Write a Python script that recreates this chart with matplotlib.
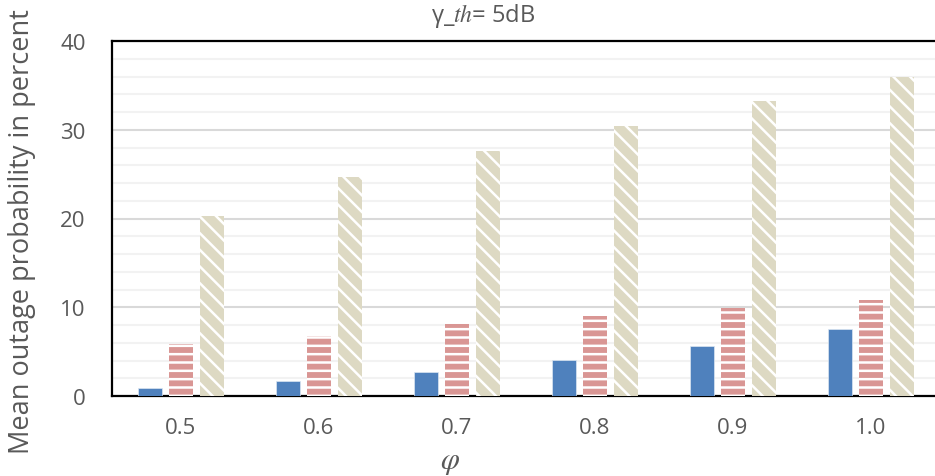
import numpy as np
import matplotlib
matplotlib.use("Agg")
import matplotlib.pyplot as plt
from matplotlib.ticker import MultipleLocator

# data
phi = ['0.5', '0.6', '0.7', '0.8', '0.9', '1.0']
blue_vals = [0.9, 1.65, 2.7, 4.05, 5.65, 7.6]
red_vals = [5.85, 6.8, 8.1, 9.0, 9.9, 10.8]
tan_vals = [20.3, 24.7, 27.6, 30.4, 33.2, 36.0]

plt.rcParams['font.family'] = ['Open Sans', 'DejaVu Sans']
plt.rcParams['mathtext.fontset'] = 'stix'
plt.rcParams['hatch.linewidth'] = 1.8
grey = '#595959'

fig = plt.figure(figsize=(9.35, 4.77), dpi=100)
ax = fig.add_axes([112/935, 1 - 397/477, 828/935, 355/477])

x = np.arange(len(phi))
w = 0.18
off = 0.225
ax.bar(x - off, blue_vals, w, color='#4F81BD', edgecolor='#DCE6F2', linewidth=0.5, zorder=3)
ax.bar(x, red_vals, w, color='#D99694', edgecolor='white', hatch='--', linewidth=0, zorder=3)
ax.bar(x + off, tan_vals, w, color='#DDD9C3', edgecolor='white', hatch='\\\\', linewidth=0, zorder=3)

ax.set_xlim(-0.5, 5.5)
ax.set_ylim(0, 40)
ax.set_xticks(x)
ax.set_xticklabels(phi)
ax.yaxis.set_major_locator(MultipleLocator(10))
ax.yaxis.set_minor_locator(MultipleLocator(2))
ax.grid(axis='y', which='major', color='#D9D9D9', linewidth=1.5, zorder=0)
ax.grid(axis='y', which='minor', color='#F2F2F2', linewidth=1.5, zorder=0)
ax.set_axisbelow(True)

ax.tick_params(axis='both', which='both', length=0, labelsize=16, labelcolor=grey)
ax.tick_params(axis='y', pad=19)
ax.tick_params(axis='x', pad=15)

for s in ['left', 'top', 'bottom']:
    ax.spines[s].set_color('black')
    ax.spines[s].set_linewidth(1.6)
ax.spines['right'].set_visible(False)

fig.text(483/935, 1 - 16/477, 'γ_$th$= 5dB', ha='center', va='center', fontsize=17, color=grey)
fig.text(450/935, 1 - 462/477, r'$\varphi$', ha='center', va='center', fontsize=22, color=grey)
fig.text(22/935, 1 - 232/477, 'Mean outage probability in percent', rotation=90,
         ha='center', va='center', fontsize=19.5, color=grey)

fig.savefig('out.png', dpi=100)
